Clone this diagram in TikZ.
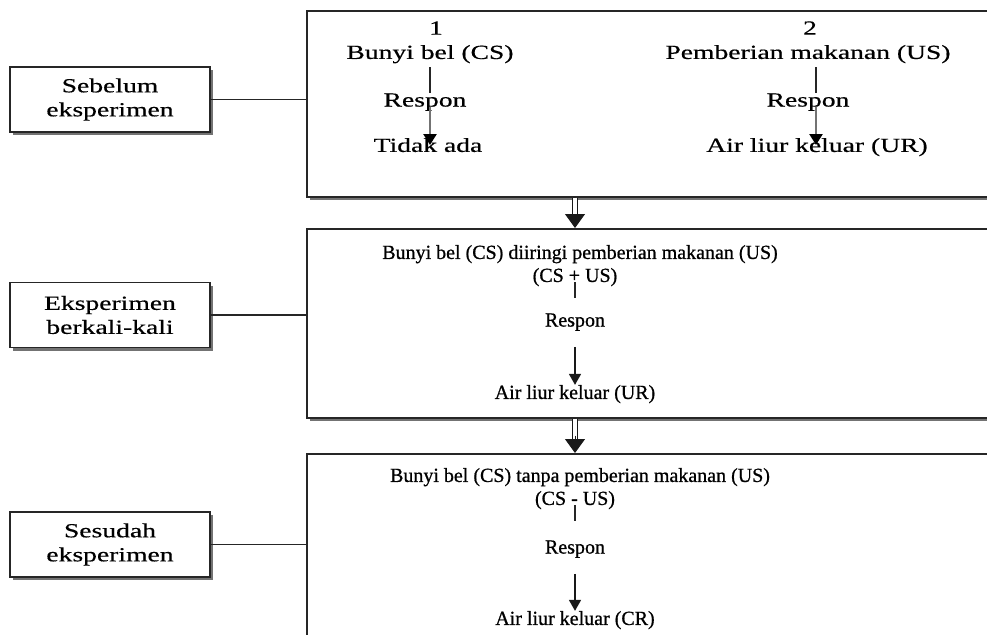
\documentclass[tikz,border=0pt]{standalone}
\usepackage{fontspec}
\setmainfont[FakeBold=0.8]{Liberation Serif}
\newfontfamily\basefont[FakeBold=0.8]{Liberation Serif}
\newfontfamily\widefont[FakeStretch=1.38,FakeBold=0.5]{Liberation Serif}
\usetikzlibrary{arrows.meta,shadows}
\begin{document}
\begin{tikzpicture}[x=1pt,y=-1pt,
  every node/.style={font=\basefont\fontsize{20}{23}\selectfont, inner sep=0pt},
  wide/.style={font=\widefont\fontsize{20}{24}\selectfont},
  shad/.style={drop shadow={shadow xshift=3pt, shadow yshift=-3pt, fill=black!55, opacity=1}},
  bigbox/.style={draw=black!85, line width=1.6pt, fill=white, shad, anchor=north west},
  leftbox/.style={draw=black!85, line width=1.6pt, fill=white, shad, minimum width=200pt, minimum height=65pt, align=center, wide},
  txt/.style={align=center, text depth=0pt},
  link/.style={line width=1.1pt, black!85},
  toparrow/.style={line width=2.4pt, black!55, -{Triangle[length=11pt,width=13pt,fill=black,color=black]}},
  inarrow/.style={line width=1.5pt, black!90, -{Triangle[length=11pt,width=12pt]}},
  tick/.style={line width=1.1pt, black!85},
  dblshaft/.style={double=white, double distance=3.5pt, line width=1.3pt, black!90, shorten >=12pt},
  dbltip/.style={line width=1pt, black!90, shorten <=17pt, -{Triangle[length=14pt,width=20pt]}}
]
\useasboundingbox (0,0) rectangle (987,634);
\clip (0,0) rectangle (987,634);

% big boxes
\node[bigbox, minimum width=700pt, minimum height=186pt] (b1) at (306,10) {};
\node[bigbox, minimum width=700pt, minimum height=189pt] (b2) at (306,228) {};
\node[bigbox, minimum width=700pt, minimum height=200pt] (b3) at (306,453) {};

% left labels
\node[leftbox] (l1) at (110,99.5) {Sebelum\\eksperimen};
\node[leftbox] (l2) at (110,315) {Eksperimen\\berkali-kali};
\node[leftbox] (l3) at (110,544.5) {Sesudah\\eksperimen};

\draw[link] (l1.east) -- (b1.west |- l1.east);
\draw[link] (l2.east) -- (b2.west |- l2.east);
\draw[link] (l3.east) -- (b3.west |- l3.east);

% top box contents
\node[txt, wide] (n1) at (436,28) {1};
\node[txt, wide] (cs1) at (430,52) {Bunyi bel (CS)};
\node[txt, wide] (r1) at (425,100) {Respon};
\node[txt, wide] (t1) at (428,145) {Tidak ada};
\node[txt, wide] (n2) at (810,28) {2};
\node[txt, wide] (us1) at (808,52) {Pemberian makanan (US)};
\node[txt, wide] (r2) at (808,100) {Respon};
\node[txt, wide] (t2) at (817,145) {Air liur keluar (UR)};
\draw[tick] ([xshift=5pt]r1.north |- cs1.south) ++(0,8) -- ([xshift=5pt]r1.north);
\draw[toparrow] ([xshift=5pt]r1.south) -- ([xshift=5pt]r1.south |- t1.center);
\draw[tick] ([xshift=8pt]r2.north |- us1.south) ++(0,8) -- ([xshift=8pt]r2.north);
\draw[toparrow] ([xshift=8pt]r2.south) -- ([xshift=8pt]r2.south |- t2.center);

% middle box contents
\node[txt] (m1) at (580,252) {Bunyi bel (CS) diiringi pemberian makanan (US)};
\node[txt] (m2) at (575,275) {(CS + US)};
\node[txt] (m3) at (575,320) {Respon};
\node[txt] (m4) at (575,392) {Air liur keluar (UR)};
\draw[tick] (m2.south) -- ++(0,16);
\draw[inarrow] ([yshift=-20pt]m3.south) -- (m4.north);

% bottom box contents
\node[txt] (s1) at (580,475) {Bunyi bel (CS) tanpa pemberian makanan (US)};
\node[txt] (s2) at (575,498) {(CS - US)};
\node[txt] (s3) at (575,547) {Respon};
\node[txt] (s4) at (575,618) {Air liur keluar (CR)};
\draw[tick] (s2.south) -- ++(0,16);
\draw[inarrow] ([yshift=-20pt]s3.south) -- (s4.north);

% arrows between boxes
\draw[dblshaft] (b1.south -| m2.south) -- (b2.north -| m2.south);
\draw[dbltip] (b1.south -| m2.south) -- (b2.north -| m2.south);
\draw[dblshaft] (b2.south -| s2.south) -- (b3.north -| s2.south);
\draw[dbltip] (b2.south -| s2.south) -- (b3.north -| s2.south);
\end{tikzpicture}
\end{document}
